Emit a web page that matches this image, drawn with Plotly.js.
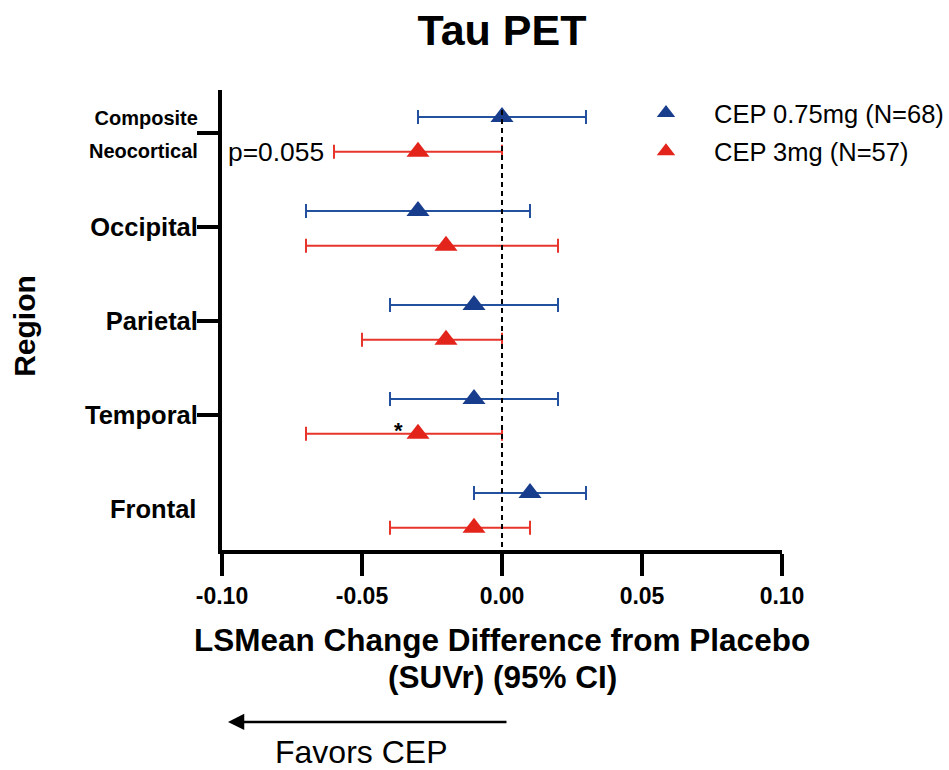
<!DOCTYPE html>
<html>
<head>
<meta charset="utf-8">
<script src="https://cdn.plot.ly/plotly-3.0.1.min.js"></script>
<style>html,body{margin:0;padding:0;background:#fff;}#chart{width:949px;height:770px;}</style>
</head>
<body>
<div id="chart"></div>
<script>
// ---- data ----
const regions = ['Composite Neocortical', 'Occipital', 'Parietal', 'Temporal', 'Frontal'];
const lowName = 'CEP 0.75mg (N=68)';
const lowMean = [0.00, -0.03, -0.01, -0.01, 0.01];
const lowLo   = [-0.03, -0.07, -0.04, -0.04, -0.01];
const lowHi   = [0.03, 0.01, 0.02, 0.02, 0.03];
const highName = 'CEP 3mg (N=57)';
const highMean = [-0.03, -0.02, -0.02, -0.03, -0.01];
const highLo   = [-0.06, -0.07, -0.05, -0.07, -0.04];
const highHi   = [0.00, 0.02, 0.00, 0.00, 0.01];
const xTickVals = [-0.10, -0.05, 0.00, 0.05, 0.10];
const xTickLabels = ['-0.10', '-0.05', '0.00', '0.05', '0.10'];

// ---- styling ----
const FONT = 'Liberation Sans, Arial, Helvetica, sans-serif';
const BLUE = '#173d8c', BLUE_BAR = '#23509f';
const RED = '#e2241b', RED_BAR = '#e8352c';
const idx = regions.map((_, i) => i);
const lowY = idx.map(i => i - 0.17);
const highY = idx.map(i => i + 0.2);

function trace(name, mean, lo, hi, ys, col, barCol, grp) {
  return {
    type: 'scatter', mode: 'markers', name: name, legendgroup: grp,
    x: mean, y: ys,
    marker: {symbol: 'triangle-up', size: 20, color: col},
    error_x: {
      type: 'data', symmetric: false,
      array: hi.map((h, i) => h - mean[i]),
      arrayminus: lo.map((l, i) => mean[i] - l),
      color: barCol, thickness: 2, width: 7
    },
    hoverinfo: 'x+y'
  };
}

const data = [
  trace(lowName, lowMean, lowLo, lowHi, lowY, BLUE, BLUE_BAR, 'a'),
  trace(highName, highMean, highLo, highHi, highY, RED, RED_BAR, 'b')
];

const yTop = -0.457, yBot = 4.436;
const tickTexts = regions.slice(0, 4).map(r => r === 'Composite Neocortical'
  ? '<span style="font-size:20px">Composite</span><br><span style="font-size:20px">Neocortical</span>'
  : r);

const layout = {
  width: 949, height: 770,
  margin: {l: 222, r: 167, t: 90, b: 220, pad: 0, autoexpand: false},
  paper_bgcolor: '#fff', plot_bgcolor: '#fff',
  showlegend: true,
  legend: {
    x: 0.7071, y: 1.0, xanchor: 'left', yanchor: 'top',
    font: {family: FONT, size: 25.5, color: '#000'},
    itemwidth: 86, tracegroupgap: 2, traceorder: 'grouped',
    bgcolor: 'rgba(0,0,0,0)'
  },
  title: {
    text: 'Tau PET', x: 0.5, xref: 'paper', xanchor: 'center',
    y: 0.9606, yref: 'container', yanchor: 'middle',
    font: {family: FONT, size: 43, color: '#000', weight: 'bold'}
  },
  xaxis: {
    range: [-0.1, 0.1], tickvals: xTickVals, ticktext: xTickLabels,
    showgrid: false, zeroline: false,
    showline: true, linecolor: '#000', linewidth: 4,
    ticks: 'outside', ticklen: 22, tickwidth: 4, tickcolor: '#000',
    tickfont: {family: FONT, size: 23, color: '#000', weight: 'bold'},
    fixedrange: true
  },
  yaxis: {
    range: [yBot, yTop], tickvals: idx.slice(0, 4), ticktext: tickTexts,
    showgrid: false, zeroline: false,
    showline: true, linecolor: '#000', linewidth: 4,
    ticks: 'outside', ticklen: 21, tickwidth: 4, tickcolor: '#000',
    ticklabelstandoff: -6,
    tickfont: {family: FONT, size: 25.5, color: '#000', weight: 'bold'},
    fixedrange: true
  },
  shapes: [{
    type: 'line', xref: 'x', yref: 'y', x0: 0, x1: 0, y0: -0.245, y1: yBot,
    line: {color: '#000', width: 2, dash: '5px,4px'}
  }],
  annotations: [
    {text: regions[4], xref: 'paper', yref: 'y', x: -0.043, y: 4, xanchor: 'right', yanchor: 'middle',
     showarrow: false, font: {family: FONT, size: 25.5, color: '#000', weight: 'bold'}},
    {text: 'Region', xref: 'paper', yref: 'paper', x: -0.352, y: 0.487, textangle: -90,
     xanchor: 'center', yanchor: 'middle', showarrow: false,
     font: {family: FONT, size: 30, color: '#000', weight: 'bold'}},
    {text: 'LSMean Change Difference from Placebo', xref: 'paper', yref: 'paper',
     x: 0.5, y: -0.1957, xanchor: 'center', yanchor: 'middle', showarrow: false,
     font: {family: FONT, size: 31.5, color: '#000', weight: 'bold'}},
    {text: '(SUVr) (95% CI)', xref: 'paper', yref: 'paper',
     x: 0.5, y: -0.2761, xanchor: 'center', yanchor: 'middle', showarrow: false,
     font: {family: FONT, size: 31.5, color: '#000', weight: 'bold'}},
    {text: 'p=0.055', xref: 'x', yref: 'y', x: -0.0985, y: 0.2, xanchor: 'left', yanchor: 'middle',
     showarrow: false, font: {family: FONT, size: 26.4, color: '#000'}},
    {text: '*', xref: 'x', yref: 'y', x: -0.037, y: 3.17, xanchor: 'center', yanchor: 'middle',
     showarrow: false, font: {family: FONT, size: 22, color: '#000', weight: 'bold'}},
    {text: '', xref: 'paper', yref: 'paper', x: 0.0107, y: -0.3739, ax: 280, ay: 0,
     showarrow: true, arrowhead: 2, arrowsize: 1.3, arrowwidth: 2.5, arrowcolor: '#000'},
    {text: 'Favors CEP', xref: 'paper', yref: 'paper', x: 0.2474, y: -0.439, xanchor: 'center', yanchor: 'middle',
     showarrow: false, font: {family: FONT, size: 32, color: '#000'}}
  ]
};

Plotly.newPlot('chart', data, layout, {displayModeBar: false, staticPlot: true});
</script>
</body>
</html>
